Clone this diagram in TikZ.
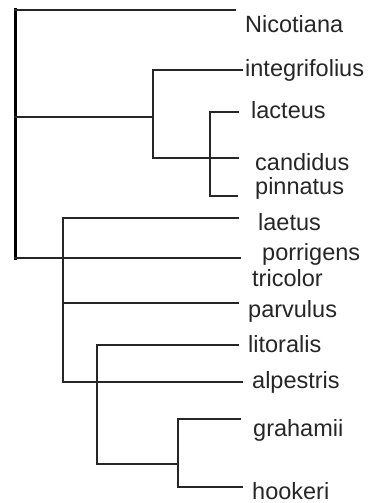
\documentclass[tikz,border=0pt]{standalone}
\usepackage{fontspec}
\setmainfont{Liberation Sans}
\begin{document}
\begin{tikzpicture}[x=1pt,y=-1pt,
  branch/.style={line width=2pt, draw=black!85, line cap=rect},
  rootline/.style={line width=3pt, draw=black, line cap=rect},
  leaf/.style={anchor=base west, inner sep=0pt, font=\fontsize{23.5}{26}\selectfont, text=black!85}]
\useasboundingbox (0,0) rectangle (373,503);
% junction and tip coordinates
\coordinate (rt) at (15,10);
\coordinate (rm) at (15,117);
\coordinate (rb) at (15,258);
\coordinate (nic) at (235,10);
\coordinate (a) at (153,117);
\coordinate (at) at (153,70);
\coordinate (ab) at (153,158);
\coordinate (int) at (242,70);
\coordinate (cand) at (238,158);
\coordinate (bt) at (210,112);
\coordinate (bb) at (210,196);
\coordinate (lac) at (238,112);
\coordinate (pin) at (237,196);
\coordinate (por) at (240,258);
\coordinate (ct) at (63,218);
\coordinate (cb) at (63,382);
\coordinate (cp) at (63,303);
\coordinate (lae) at (238,218);
\coordinate (par) at (238,303);
\coordinate (alp) at (242,382);
\coordinate (dt) at (97,345);
\coordinate (db) at (97,464);
\coordinate (lit) at (238,345);
\coordinate (et) at (178,419);
\coordinate (em) at (178,464);
\coordinate (eb) at (178,487);
\coordinate (gra) at (240,419);
\coordinate (hoo) at (242,487);
% branches
\draw[rootline] (rt) -- (rb);
\draw[branch] (rt) -- (nic);
\draw[branch] (rm) -- (a);
\draw[branch] (at) -- (ab);
\draw[branch] (at) -- (int);
\draw[branch] (ab) -- (cand);
\draw[branch] (bt) -- (bb);
\draw[branch] (bt) -- (lac);
\draw[branch] (bb) -- (pin);
\draw[branch] (rb) -- (por);
\draw[branch] (ct) -- (cb);
\draw[branch] (ct) -- (lae);
\draw[branch] (cp) -- (par);
\draw[branch] (cb) -- (alp);
\draw[branch] (dt) -- (db);
\draw[branch] (dt) -- (lit);
\draw[branch] (db) -- (em);
\draw[branch] (et) -- (eb);
\draw[branch] (et) -- (gra);
\draw[branch] (eb) -- (hoo);
% labels
\node[leaf] (lNic) at (245,33) {Nicotiana};
\node[leaf] (lInt) at (245,77) {integrifolius};
\node[leaf] (lLac) at (251,118) {lacteus};
\node[leaf] (lCan) at (255,170) {candidus};
\node[leaf] (lPin) at (255,194) {pinnatus};
\node[leaf] (lLae) at (258,230) {laetus};
\node[leaf] (lPor) at (262,260) {porrigens};
\node[leaf] (lTri) at (252,286) {tricolor};
\node[leaf] (lPar) at (248,317) {parvulus};
\node[leaf] (lLit) at (248,352) {litoralis};
\node[leaf] (lAlp) at (252,388) {alpestris};
\node[leaf] (lGra) at (253,436) {grahamii};
\node[leaf] (lHoo) at (252,499) {hookeri};
\end{tikzpicture}
\end{document}
